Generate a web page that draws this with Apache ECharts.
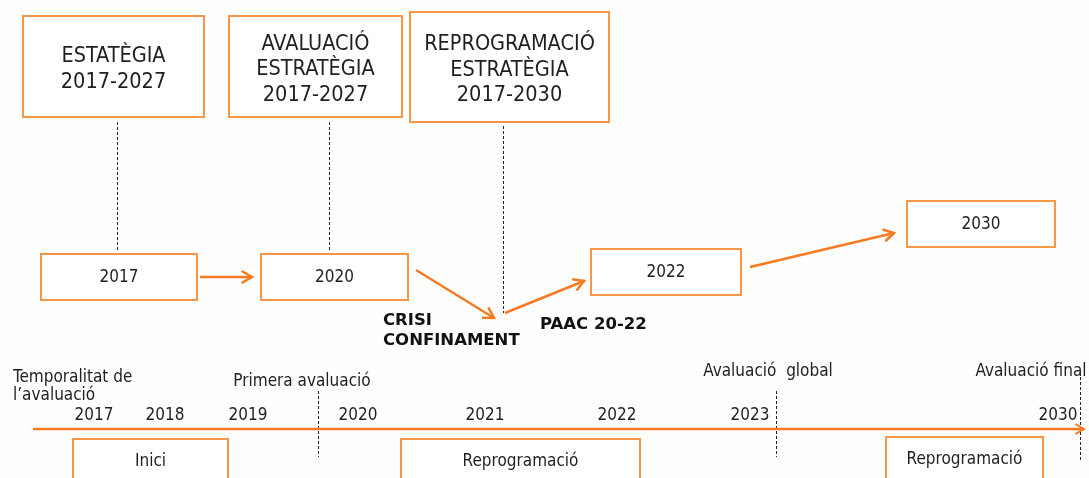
<!DOCTYPE html>
<html>
<head>
<meta charset="utf-8">
<script src="https://cdn.jsdelivr.net/npm/echarts@6/dist/echarts.min.js"></script>
<style>
  html, body { margin: 0; padding: 0; background: #fefefd; }
  #chart { width: 1089px; height: 478px; }
</style>
</head>
<body>
<div id="chart"></div>
<script>
// texts
const topBoxTexts = ['ESTATÈGIA\n2017-2027', 'AVALUACIÓ\nESTRATÈGIA\n2017-2027', 'REPROGRAMACIÓ\nESTRATÈGIA\n2017-2030']
const stepTexts = ['2017', '2020', '2022', '2030']
const eventTexts = ['CRISI\nCONFINAMENT', 'PAAC 20-22']
const yearLabels = ['2017', '2018', '2019', '2020', '2021', '2022', '2023', '2030']
const milestoneTexts = ['Primera avaluació', 'Avaluació  global', 'Avaluació final']
const phaseTexts = ['Inici', 'Reprogramació', 'Reprogramació']
const timelineTitle = 'Temporalitat de\nl’avaluació'

// diagram layout (diagram units = pixels of the 1089x478 canvas)
const topBoxes = [[23, 16, 204, 117], [229, 16, 402, 117], [410, 12, 609, 122]]
const stepBoxes = [[41, 254, 197, 300], [261, 254, 408, 300], [591, 249, 741, 295], [907, 201, 1055, 247]]
const stepArrows = [[200, 277, 252, 277], [416, 270, 494, 318], [505, 313, 584, 281], [750, 267, 894, 233]]
const guideLines = [[117, 122, 117, 251], [329, 122, 329, 251], [503, 126, 503, 313]]
const eventPos = [[383, 331], [540, 325]]
const yearX = [94, 165, 248, 358, 485, 617, 750, 1058]
const yearY = 416
const timeline = [33, 429, 1084]
const milestoneLabelPos = [[302, 382], [768, 372], [1031, 372]]
const milestoneLines = [[318, 391, 457], [776, 391, 457], [1080, 377, 462]]
const phaseBoxes = [[73, 439, 228, 490], [401, 439, 640, 490], [886, 437, 1043, 490]]
const phaseLabelOffset = 23

const ORANGE = '#f79646'
const ARROW = '#f77a22'
const TXT = '#1f1f1f'
const FONT = "'DejaVu Sans Condensed', 'DejaVu Sans'"

function boxSeries(rects, texts, fontSize, lineHeight, labelOffset, nudge) {
  return {
    type: 'custom',
    coordinateSystem: 'cartesian2d',
    data: rects.map((r, i) => [r[0], r[1], r[2], r[3], i]),
    encode: { x: [0, 2], y: [1, 3] },
    silent: true,
    renderItem: (params, api) => {
      const p0 = api.coord([api.value(0), api.value(1)])
      const p1 = api.coord([api.value(2), api.value(3)])
      const i = api.value(4)
      // bottom boxes run off the canvas, so their label sits at a fixed offset from the top
      const ty = labelOffset ? p0[1] + labelOffset : (p0[1] + p1[1]) / 2 + (nudge || 0)
      return {
        type: 'group',
        children: [
          {
            type: 'rect',
            shape: { x: p0[0], y: p0[1], width: p1[0] - p0[0], height: p1[1] - p0[1] },
            style: { fill: '#ffffff', stroke: ORANGE, lineWidth: 2 }
          },
          {
            type: 'text',
            x: (p0[0] + p1[0]) / 2,
            y: ty,
            style: {
              text: texts[i], fill: TXT, fontFamily: FONT, fontSize: fontSize,
              lineHeight: lineHeight, align: 'center', verticalAlign: 'middle'
            }
          }
        ]
      }
    }
  }
}

function arrowHead(a, b, len, color, width) {
  const ang = Math.atan2(b[1] - a[1], b[0] - a[0])
  const s = Math.PI / 6
  return {
    type: 'polyline',
    shape: { points: [
      [b[0] - len * Math.cos(ang - s), b[1] - len * Math.sin(ang - s)],
      b,
      [b[0] - len * Math.cos(ang + s), b[1] - len * Math.sin(ang + s)]
    ] },
    style: { stroke: color, lineWidth: width, fill: null }
  }
}

const arrowSeries = {
  type: 'custom',
  coordinateSystem: 'cartesian2d',
  data: stepArrows,
  encode: { x: [0, 2], y: [1, 3] },
  silent: true,
  renderItem: (params, api) => {
    const a = api.coord([api.value(0), api.value(1)])
    const b = api.coord([api.value(2), api.value(3)])
    return {
      type: 'group',
      children: [
        { type: 'line', shape: { x1: a[0], y1: a[1], x2: b[0], y2: b[1] }, style: { stroke: ARROW, lineWidth: 2.5 } },
        arrowHead(a, b, 12, ARROW, 2.5)
      ]
    }
  }
}

const dashedSeries = {
  type: 'custom',
  coordinateSystem: 'cartesian2d',
  data: guideLines.concat(milestoneLines.map(m => [m[0], m[1], m[0], m[2]])),
  encode: { x: [0, 2], y: [1, 3] },
  silent: true,
  renderItem: (params, api) => {
    const a = api.coord([api.value(0), api.value(1)])
    const b = api.coord([api.value(2), api.value(3)])
    return {
      type: 'line',
      shape: { x1: a[0] + 0.5, y1: a[1], x2: b[0] + 0.5, y2: b[1] },
      style: { stroke: '#222', lineWidth: 1, lineDash: [3, 2] }
    }
  }
}

const timelineSeries = {
  type: 'custom',
  coordinateSystem: 'cartesian2d',
  data: [timeline],
  encode: { x: [0, 2], y: 1 },
  silent: true,
  renderItem: (params, api) => {
    const a = api.coord([api.value(0), api.value(1)])
    const b = api.coord([api.value(2), api.value(1)])
    return {
      type: 'group',
      children: [
        { type: 'line', shape: { x1: a[0], y1: a[1], x2: b[0], y2: b[1] }, style: { stroke: ARROW, lineWidth: 2.5 } },
        arrowHead(a, b, 10, ARROW, 2)
      ]
    }
  }
}

function textSeries(points, texts, style) {
  return {
    type: 'custom',
    coordinateSystem: 'cartesian2d',
    data: points.map((p, i) => [p[0], p[1], i]),
    encode: { x: 0, y: 1 },
    silent: true,
    z: 5,
    renderItem: (params, api) => {
      const p = api.coord([api.value(0), api.value(1)])
      return {
        type: 'text',
        x: p[0],
        y: p[1],
        style: Object.assign({ text: texts[api.value(2)], fill: TXT, fontFamily: FONT, verticalAlign: 'middle' }, style)
      }
    }
  }
}

const chart = echarts.init(document.getElementById('chart'), null, { renderer: 'canvas' })
chart.setOption({
  backgroundColor: '#fefefd',
  animation: false,
  grid: { left: 0, right: 0, top: 0, bottom: 0 },
  xAxis: { type: 'value', min: 0, max: 1089, show: false },
  yAxis: { type: 'value', min: 0, max: 478, inverse: true, show: false },
  series: [
    dashedSeries,
    boxSeries(topBoxes, topBoxTexts, 21.5, 25.5, 0, 3),
    boxSeries(stepBoxes, stepTexts, 17, 18, 0, 1),
    arrowSeries,
    timelineSeries,
    boxSeries(phaseBoxes, phaseTexts, 17, 18, phaseLabelOffset),
    textSeries(eventPos, eventTexts, { fontSize: 16.5, fontWeight: 'bold', lineHeight: 20, align: 'left', fill: '#111', fontFamily: 'DejaVu Sans' }),
    textSeries(yearX.map(x => [x, yearY]), yearLabels, { fontSize: 17, align: 'center' }),
    textSeries([[13, 387]], [timelineTitle], { fontSize: 17, lineHeight: 18, align: 'left' }),
    textSeries(milestoneLabelPos, milestoneTexts, { fontSize: 17, align: 'center' })
  ]
})
</script>
</body>
</html>
